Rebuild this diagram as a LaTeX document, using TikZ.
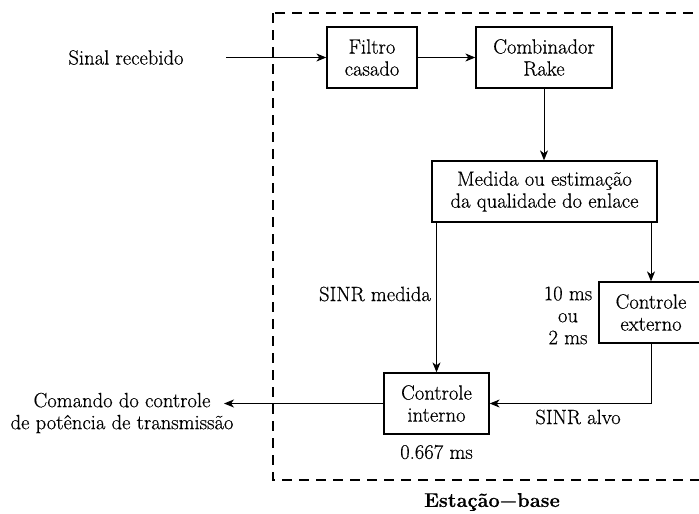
\documentclass[tikz,border=0pt]{standalone}
\usepackage{fontspec}
\newfontfamily\lmdark{Latin Modern Roman}[FakeBold=0.45]
\usetikzlibrary{arrows.meta}
\begin{document}
\begin{tikzpicture}[x=1pt,y=-1pt,
  box/.style={draw, line width=1.3pt, minimum height=61pt, inner sep=0pt, align=center},
  lbl/.style={align=center, inner sep=0pt},
  conn/.style={line width=0.9pt, -{Stealth[length=10pt,width=8pt,inset=3pt]}},
  dashbox/.style={line width=1.3pt, dash pattern=on 10pt off 7pt},
  font=\lmdark\fontsize{20.6}{22}\selectfont]
\useasboundingbox (0,0) rectangle (699,514);
\clip (0,0) rectangle (699,514);
\draw[dashbox] (273,13) rectangle (730,480);
\node[box, minimum width=90pt] (filtro) at (372,57.5) {Filtro\\casado};
\node[box, minimum width=136pt] (comb) at (544,57.5) {Combinador\\Rake};
\node[box, minimum width=225pt] (med) at (544.5,191.5) {Medida ou estimação\\da qualidade do enlace};
\node[box, minimum width=104pt] (ext) at (651,312.5) {Controle\\externo};
\node[box, minimum width=105pt] (int) at (436.5,403.5) {Controle\\interno};
\coordinate (in) at (226,57.5);
\coordinate (out) at (224,403.5);
\draw[conn] (in) -- (filtro.west);
\draw[conn] (filtro.east) -- (comb.west);
\draw[conn] (comb.south) -- (comb.south |- med.north);
\draw[conn] (med.south -| int.north) -- (int.north);
\draw[conn] (med.south -| ext.north) -- (ext.north);
\draw[conn] (ext.south) |- (int.east);
\draw[conn] (int.west) -- (out);
\node[lbl, anchor=east] (sm) at (431,294) {SINR medida};
\node[lbl] (t10) at (568,315.5) {10 ms\\ou\\2 ms};
\node[lbl] (alvo) at (578,417) {SINR alvo};
\node[lbl] (t667) at (436.5,452) {0.667 ms};
\node[lbl] (sinal) at (126,57.5) {Sinal recebido};
\node[lbl] (cmd) at (122,413) {Comando do controle\\de potência de transmissão};
\node[lbl, font=\lmdark\bfseries\fontsize{20}{22}\selectfont] (eb) at (492,502) {Estação−base};
\end{tikzpicture}
\end{document}
